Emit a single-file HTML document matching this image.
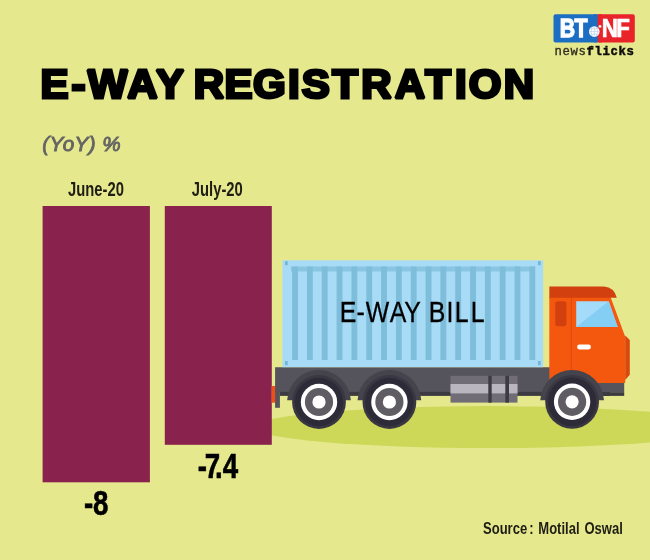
<!DOCTYPE html>
<html><head><meta charset="utf-8"><title>E-WAY REGISTRATION</title>
<style>
html,body{margin:0;padding:0;background:#e6e88e;}
svg{display:block}
text{font-family:"Liberation Sans",sans-serif;}
</style></head><body>
<svg width="650" height="560" viewBox="0 0 650 560">
<rect width="650" height="560" fill="#e6e88e"/>

<!-- ground -->
<ellipse cx="489" cy="427.1" rx="235" ry="21" fill="#cdd859"/>

<!-- bars -->
<rect x="42.6" y="206" width="107.3" height="276.3" fill="#8a224e"/>
<rect x="164.8" y="206" width="107" height="238.8" fill="#8a224e"/>

<!-- title -->
<text transform="translate(0,97.9) scale(1.02,1)" x="39.80 70.12 85.95 124.86 152.91 192.75 190.05 220.00 248.13 282.27 295.78 325.64 354.27 386.92 417.01 446.04 459.49 493.96" font-size="41.2" font-weight="bold" fill="#000" stroke="#000" stroke-width="3" stroke-linejoin="miter" stroke-miterlimit="1.6">E-WAY REGISTRATION</text>
<text x="42.2" y="151.4" font-size="20.7" font-style="italic" fill="#646464" stroke="#646464" stroke-width="0.9" letter-spacing="0.45">(YoY) %</text>

<!-- bar labels -->
<text transform="translate(68,195.6) scale(0.76,1)" font-size="19.5" font-weight="bold" fill="#1e1e14">June-20</text>
<text transform="translate(191.8,195.6) scale(0.76,1)" font-size="19.5" font-weight="bold" fill="#1e1e14">July-20</text>

<!-- values -->
<text transform="translate(0,515) scale(0.78,1)" x="107.82 119.28" font-size="35.5" font-weight="bold" fill="#000" stroke="#000" stroke-width="0.6">-8</text>
<text transform="translate(0,478) scale(0.78,1)" x="253.59 262.58 275.53 285.53" font-size="35.5" font-weight="bold" fill="#000" stroke="#000" stroke-width="0.6">-7.4</text>

<!-- source -->
<text transform="translate(483,533.5) scale(0.79,1)" font-size="16.5" font-weight="bold" fill="#1e1e14">Source <tspan dx="-1.8">:</tspan><tspan dx="1.2"> Motilal</tspan><tspan dx="1.6"> Oswal</tspan></text>

<!-- truck -->
<g id="truck">
<!-- rear reflector -->
<rect x="271.7" y="386" width="4" height="16.7" fill="#ef4f16"/>
<!-- chassis -->
<path d="M275.1,367.2 H610 V392 H275.1 Z" fill="#55535b"/>
<rect x="275.1" y="391" width="4.8" height="16.8" fill="#55535b"/>
<rect x="279.9" y="391.9" width="330" height="4" fill="#3d3b42"/>
<!-- container -->
<rect x="282.4" y="260.3" width="260.8" height="106.9" fill="#a8dcf6"/>
<rect x="291" y="266.5" width="244" height="5" fill="#8ac6e2"/>
<rect x="292.10" y="266.5" width="5.9" height="93.5" fill="#7fbedb"/>
<rect x="306.93" y="266.5" width="5.9" height="93.5" fill="#7fbedb"/>
<rect x="321.76" y="266.5" width="5.9" height="93.5" fill="#7fbedb"/>
<rect x="336.59" y="266.5" width="5.9" height="93.5" fill="#7fbedb"/>
<rect x="351.42" y="266.5" width="5.9" height="93.5" fill="#7fbedb"/>
<rect x="366.25" y="266.5" width="5.9" height="93.5" fill="#7fbedb"/>
<rect x="381.08" y="266.5" width="5.9" height="93.5" fill="#7fbedb"/>
<rect x="395.91" y="266.5" width="5.9" height="93.5" fill="#7fbedb"/>
<rect x="410.74" y="266.5" width="5.9" height="93.5" fill="#7fbedb"/>
<rect x="425.57" y="266.5" width="5.9" height="93.5" fill="#7fbedb"/>
<rect x="440.40" y="266.5" width="5.9" height="93.5" fill="#7fbedb"/>
<rect x="455.23" y="266.5" width="5.9" height="93.5" fill="#7fbedb"/>
<rect x="470.06" y="266.5" width="5.9" height="93.5" fill="#7fbedb"/>
<rect x="484.89" y="266.5" width="5.9" height="93.5" fill="#7fbedb"/>
<rect x="499.72" y="266.5" width="5.9" height="93.5" fill="#7fbedb"/>
<rect x="514.55" y="266.5" width="5.9" height="93.5" fill="#7fbedb"/>
<rect x="529.38" y="266.5" width="5.9" height="93.5" fill="#7fbedb"/>

<rect x="285" y="261.2" width="2.7" height="4" fill="#74b4d8"/>
<rect x="538" y="261.2" width="2.7" height="4" fill="#74b4d8"/>
<rect x="285" y="361" width="2.7" height="4.2" fill="#74b4d8"/>
<rect x="538" y="361" width="2.7" height="4.2" fill="#74b4d8"/>
<text transform="translate(0,322) scale(0.84,1)" x="404.49 424.36 435.36 463.94 481.26 509.88 510.41 531.54 541.46 560.51" font-size="29.6" fill="#000" stroke="#000" stroke-width="0.3">E-WAY BILL</text>

<!-- fuel tank -->
<rect x="450.5" y="375.8" width="67" height="26.8" fill="#706d76"/>
<rect x="450.5" y="384" width="67" height="9.4" fill="#b9b6bf"/>
<rect x="488.3" y="375.8" width="3.4" height="26.8" fill="#3d3b42"/>
<rect x="505.3" y="375.8" width="3.7" height="26.8" fill="#3d3b42"/>

<!-- cab -->
<path d="M549.3,297 H610.5 L625.2,336.8 V383 H549.3 Z" fill="#f4580f"/>
<path d="M625.2,335.5 L629.8,340 V374.8 L625.2,380 Z" fill="#d9480f"/>
<path d="M549.3,286.4 H604 Q614,287 616.8,297.7 H549.3 Z" fill="#d2400f"/>
<rect x="570.8" y="297.7" width="1" height="86" fill="#dc4a0c"/>
<rect x="555.2" y="301.2" width="11.2" height="25" rx="2.5" fill="#d2400f"/>
<path d="M576.2,301.2 H608.7 L617.7,327.1 H576.2 Z" fill="#a3dbf8"/>
<path d="M608.7,301.2 L617.7,327.1 H576.2 Z" fill="#84cdf3"/>
<rect x="577.1" y="344.6" width="13.8" height="4.9" rx="2.4" fill="#ffffff"/>
<!-- bumper -->
<rect x="596" y="383" width="28.2" height="9.3" fill="#55535b"/>
<rect x="596" y="392.2" width="28.2" height="3.7" fill="#3d3b42"/>

<!-- arches & wheels -->
<path d="M287.15,400.2 A31.9,31.9 0 0 1 350.85,400.2 Z" fill="#45434b"/>
<path d="M357.55,400.2 A31.9,31.9 0 0 1 421.25,400.2 Z" fill="#45434b"/>
<path d="M540.24,400.2 A31.9,31.9 0 0 1 603.96,400.2 Z" fill="#45434b"/>

<circle cx="319" cy="402.0" r="26.9" fill="#393742"/>
<circle cx="319" cy="402.0" r="24.2" fill="#2d2b38"/>
<circle cx="319" cy="402.0" r="18.2" fill="#ffffff"/>
<circle cx="319" cy="402.0" r="14.1" fill="#5f5d63"/>
<circle cx="319" cy="402.0" r="6.6" fill="#ffffff"/>
<circle cx="389.4" cy="402.0" r="26.9" fill="#393742"/>
<circle cx="389.4" cy="402.0" r="24.2" fill="#2d2b38"/>
<circle cx="389.4" cy="402.0" r="18.2" fill="#ffffff"/>
<circle cx="389.4" cy="402.0" r="14.1" fill="#5f5d63"/>
<circle cx="389.4" cy="402.0" r="6.6" fill="#ffffff"/>
<circle cx="572.1" cy="401.8" r="26.9" fill="#393742"/>
<circle cx="572.1" cy="401.8" r="24.2" fill="#2d2b38"/>
<circle cx="572.1" cy="401.8" r="18.2" fill="#ffffff"/>
<circle cx="572.1" cy="401.8" r="14.1" fill="#5f5d63"/>
<circle cx="572.1" cy="401.8" r="6.6" fill="#ffffff"/>

</g>

<!-- logo -->
<g id="logo">
<rect x="553.5" y="14.2" width="44.5" height="28.3" rx="2" fill="#1c6ec2"/>
<rect x="597.6" y="14.2" width="37.2" height="28.3" rx="2" fill="#e8242a"/>
<rect x="594" y="14.2" width="3.8" height="28.3" fill="#1c6ec2"/>
<rect x="597.7" y="14.2" width="4" height="28.3" fill="#e8242a"/>
<text transform="translate(0,37) scale(0.82,1)" x="682.59 700.65" font-size="26" font-weight="bold" fill="#fff" stroke="#fff" stroke-width="1.3">BT</text>
<text transform="translate(0,37) scale(0.86,1)" x="699.80 716.55" font-size="26" font-weight="bold" fill="#fff" stroke="#fff" stroke-width="0.7">NF</text>
<circle cx="594.3" cy="31.6" r="5.3" fill="#fff"/>
<path d="M589.3,31.6 H599.3 M594.3,26.6 V36.6 M590.6,28.2 Q594.3,30.4 598,28.2 M590.6,35 Q594.3,32.8 598,35 M592,27 Q590,31.6 592,36.2 M596.6,27 Q598.6,31.6 596.6,36.2" stroke="#9dbfe6" stroke-width="0.5" fill="none"/>
<circle cx="600" cy="26.4" r="1.7" fill="#fff" stroke="#e8242a" stroke-width="0.6"/>
<text x="554.5" y="55" font-size="12.3" letter-spacing="0.62" style="font-family:'Liberation Mono',monospace" fill="#2e2e1e" stroke="#2e2e1e" stroke-width="0.35">news<tspan font-weight="bold" fill="#0c0c08" stroke="#0c0c08" stroke-width="0.45">flicks</tspan></text>
</g>
</svg>
</body></html>
